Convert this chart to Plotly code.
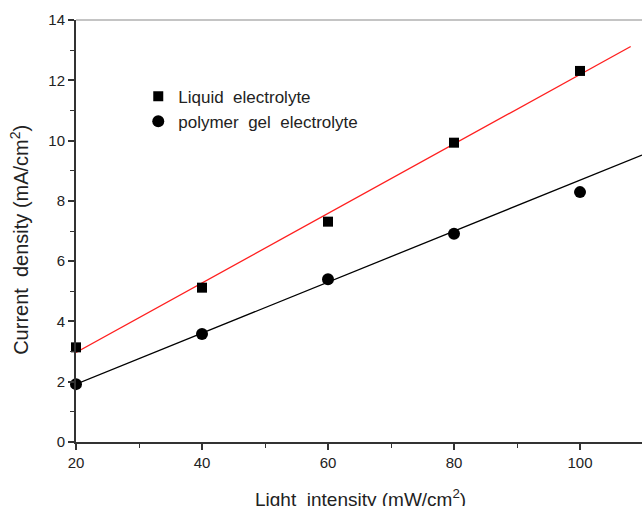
import plotly.graph_objects as go

# Data
light = [20, 40, 60, 80, 100]
liquid = [3.14, 5.12, 7.31, 9.93, 12.31]
polymer = [1.92, 3.58, 5.40, 6.91, 8.29]

# Linear fit lines (endpoints)
fit_liquid_x = [20, 108.05]
fit_liquid_y = [2.97, 13.12]
fit_polymer_x = [20, 109.84]
fit_polymer_y = [1.92, 9.52]

x_ticks = [20, 40, 60, 80, 100]
y_ticks = [0, 2, 4, 6, 8, 10, 12, 14]

font = "Liberation Sans, Arial, sans-serif"

fig = go.Figure()
fig.add_trace(go.Scatter(x=fit_liquid_x, y=fit_liquid_y, mode="lines",
                         line=dict(color="#ff2020", width=1.3), showlegend=False))
fig.add_trace(go.Scatter(x=fit_polymer_x, y=fit_polymer_y, mode="lines",
                         line=dict(color="black", width=1.3), showlegend=False))
fig.add_trace(go.Scatter(x=light, y=liquid, mode="markers", name="Liquid\u00a0 electrolyte",
                         marker=dict(symbol="square", size=10, color="black"),
                         cliponaxis=False))
fig.add_trace(go.Scatter(x=light, y=polymer, mode="markers", name="polymer\u00a0 gel\u00a0 electrolyte",
                         marker=dict(symbol="circle", size=12, color="black"),
                         cliponaxis=False))

axis_common = dict(showgrid=False, zeroline=False, showline=True, linecolor="#333333",
                   linewidth=2, ticks="outside", ticklen=6, tickwidth=1.5, tickcolor="#333333",
                   tickfont=dict(family=font, size=15, color="#222222"))

fig.update_xaxes(range=[20, 109.84], tickvals=x_ticks, ticktext=[str(v) for v in x_ticks],
                 minor=dict(ticks="outside", ticklen=4, tickwidth=1.2, tickcolor="#333333", dtick=10, tick0=0),
                 **axis_common)
fig.update_yaxes(range=[0, 14], tickvals=y_ticks, ticktext=[str(v) for v in y_ticks],
                 minor=dict(ticks="outside", ticklen=4, tickwidth=1.2, tickcolor="#333333", dtick=1, tick0=0),
                 **axis_common)

fig.update_layout(
    width=642, height=506,
    margin=dict(l=76, r=0, t=20, b=64),
    plot_bgcolor="white", paper_bgcolor="white",
    font=dict(family=font, color="#222222"),
    legend=dict(x=0.11, y=0.861, xanchor="left", yanchor="top",
                bgcolor="rgba(0,0,0,0)", font=dict(family=font, size=17, color="#222222"),
                itemwidth=30, tracegroupgap=0),
    shapes=[dict(type="line", xref="paper", yref="paper", x0=0, x1=1, y0=1, y1=1,
                 line=dict(color="#b0b0b0", width=1.5))],
    annotations=[
        dict(text="Light\u00a0 intensity (mW/cm<sup>2</sup>)", xref="paper", yref="paper",
             x=0.502, y=-0.1, xanchor="center", yanchor="top", showarrow=False,
             font=dict(family=font, size=19, color="#222222")),
        dict(text="Current\u00a0 density (mA/cm<sup>2</sup>)", xref="paper", yref="paper",
             x=-0.1, y=0.48, xanchor="center", yanchor="middle", textangle=-90, showarrow=False,
             font=dict(family=font, size=20, color="#222222")),
    ],
)

fig.write_html("out.html", config={"displayModeBar": False},
               post_script="document.body.style.margin='0';document.body.style.overflow='hidden';")
